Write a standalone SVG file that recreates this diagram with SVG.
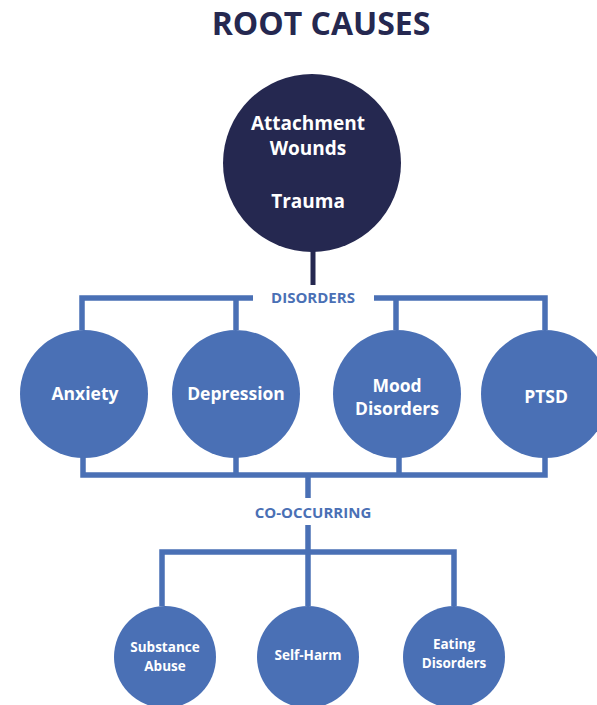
<svg xmlns="http://www.w3.org/2000/svg" width="597" height="705" viewBox="0 0 597 705">
<style>
text{font-family:"Open Sans","Liberation Sans",sans-serif;font-weight:bold;text-anchor:middle}
.t{fill:#252850;font-size:32px}
.w{fill:#ffffff}
.lbl{fill:#4a70b5;font-size:15px}
.c{fill:#4a70b5}
.ln{stroke:#4a70b5;stroke-width:5.5;fill:none}
</style>
<rect width="597" height="705" fill="#ffffff"/>
<text class="t" x="321" y="35">ROOT CAUSES</text>
<g id="connectors">
<line x1="313" y1="250" x2="313" y2="285" stroke="#252850" stroke-width="5"/>
<polyline class="ln" points="253,298 82,298 82,330"/>
<line class="ln" x1="236" y1="298" x2="236" y2="330"/>
<polyline class="ln" points="374,298 545,298 545,330"/>
<line class="ln" x1="396" y1="298" x2="396" y2="330"/>
<polyline class="ln" points="83,455 83,475 545,475 545,455"/>
<line class="ln" x1="236" y1="455" x2="236" y2="475"/>
<line class="ln" x1="399" y1="455" x2="399" y2="475"/>
<line class="ln" x1="308" y1="475" x2="308" y2="498"/>
<line class="ln" x1="308" y1="525" x2="308" y2="606"/>
<polyline class="ln" points="162,606 162,552 454,552 454,606"/>
<text class="lbl" x="313" y="303">DISORDERS</text>
<text class="lbl" x="313" y="518">CO-OCCURRING</text>
</g>
<g id="root">
<circle cx="312" cy="163" r="89" fill="#252850"/>
<text class="w" font-size="19" x="308" y="130">Attachment</text>
<text class="w" font-size="19" x="308" y="155">Wounds</text>
<text class="w" font-size="19" x="308" y="208">Trauma</text>
</g>
<g id="anxiety">
<circle class="c" cx="84" cy="394" r="64"/>
<text class="w" font-size="17.5" x="85" y="400">Anxiety</text>
</g>
<g id="depression">
<circle class="c" cx="236" cy="394" r="64"/>
<text class="w" font-size="17.5" x="236" y="400">Depression</text>
</g>
<g id="mood">
<circle class="c" cx="397" cy="394" r="64"/>
<text class="w" font-size="17.5" x="397" y="392">Mood</text>
<text class="w" font-size="17.5" x="397" y="415">Disorders</text>
</g>
<g id="ptsd">
<circle class="c" cx="545" cy="394" r="64"/>
<text class="w" font-size="17.5" x="546" y="403">PTSD</text>
</g>
<g id="substance">
<circle class="c" cx="165" cy="657" r="51"/>
<text class="w" font-size="13.5" x="165" y="652">Substance</text>
<text class="w" font-size="13.5" x="165" y="671">Abuse</text>
</g>
<g id="selfharm">
<circle class="c" cx="308" cy="657" r="51"/>
<text class="w" font-size="13.5" x="308" y="660">Self-Harm</text>
</g>
<g id="eating">
<circle class="c" cx="454" cy="657" r="51"/>
<text class="w" font-size="13.5" x="454" y="649">Eating</text>
<text class="w" font-size="13.5" x="454" y="668">Disorders</text>
</g>
</svg>
